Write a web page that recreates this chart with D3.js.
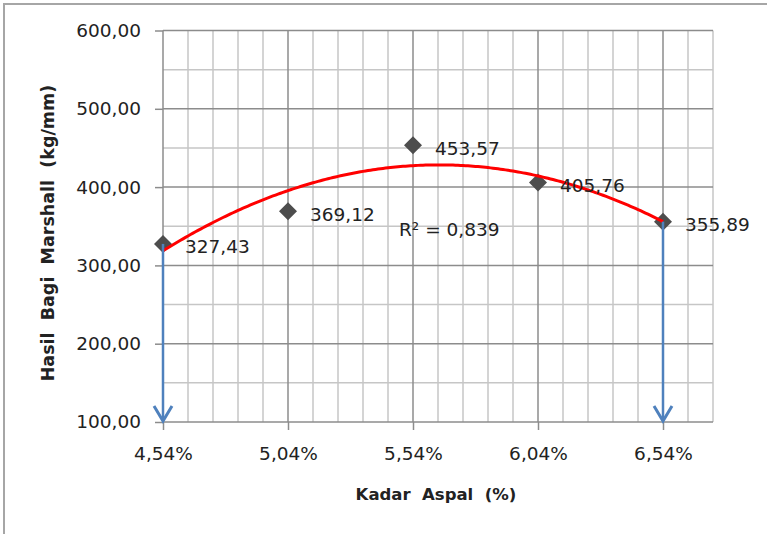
<!DOCTYPE html>
<html><head><meta charset="utf-8">
<script src="https://cdn.jsdelivr.net/npm/d3@7"></script>
<style>html,body{margin:0;padding:0;background:#fff;}svg{display:block;}text{white-space:pre;}</style>
</head><body>
<svg id="chart" width="767" height="534"></svg>
<script>
const xValues = [4.54, 5.04, 5.54, 6.04, 6.54];
const yValues = [327.43, 369.12, 453.57, 405.76, 355.89];
const valueLabels = ["327,43", "369,12", "453,57", "405,76", "355,89"];
const xTickValues = [4.54, 5.04, 5.54, 6.04, 6.54];
const xTickLabels = ["4,54%", "5,04%", "5,54%", "6,04%", "6,54%"];
const yTickValues = [100, 200, 300, 400, 500, 600];
const yTickLabels = ["100,00", "200,00", "300,00", "400,00", "500,00", "600,00"];
const arrowXs = [4.54, 6.54];
const r2Text = "R² = 0,839";
const xTitle = "Kadar  Aspal  (%)";
const yTitle = "Hasil  Bagi  Marshall  (kg/mm)";

const svg = d3.select("#chart");
const FONT = "'DejaVu Sans', Verdana, sans-serif";
const FS = 18.5;
svg.append("rect").attr("width",767).attr("height",534).attr("fill","#fff");
svg.append("rect").attr("x",4).attr("y",4).attr("width",800).attr("height",600)
  .attr("fill","none").attr("stroke","#a6a6a6").attr("stroke-width",2);

const x = d3.scaleLinear().domain([4.54, 6.74]).range([163, 713]);
const y = d3.scaleLinear().domain([100, 600]).range([422, 30.5]);

const g = svg.append("g");
const minorX = d3.range(1, 23).map(i => 4.54 + i*0.1).filter(v => !xTickValues.some(t => Math.abs(t-v) < 1e-6));
g.selectAll(".vminor").data(minorX).join("line")
  .attr("x1", d=>x(d)).attr("x2", d=>x(d)).attr("y1", y(600)).attr("y2", y(100))
  .attr("stroke","#c6c6c6").attr("stroke-width",1.5);
const minorY = d3.range(150, 600, 100);
g.selectAll(".hminor").data(minorY).join("line")
  .attr("x1", x(4.54)).attr("x2", x(6.74)).attr("y1", d=>y(d)).attr("y2", d=>y(d))
  .attr("stroke","#c6c6c6").attr("stroke-width",1.5);
g.selectAll(".vmajor").data(xTickValues.slice(1)).join("line")
  .attr("x1", d=>x(d)).attr("x2", d=>x(d)).attr("y1", y(600)).attr("y2", y(100))
  .attr("stroke","#8c8c8c").attr("stroke-width",1.5);
g.selectAll(".hmajor").data(yTickValues.slice(1)).join("line")
  .attr("x1", x(4.54)).attr("x2", x(6.74)).attr("y1", d=>y(d)).attr("y2", d=>y(d))
  .attr("stroke","#8c8c8c").attr("stroke-width",1.5);

const yAxis = d3.axisLeft(y).tickValues(yTickValues).tickSize(8).tickPadding(14)
  .tickFormat((d,i)=>yTickLabels[i]);
const ya = svg.append("g").attr("transform",`translate(${x(4.54)},0)`).call(yAxis);
const xAxis = d3.axisBottom(x).tickValues(xTickValues).tickSize(8).tickPadding(17)
  .tickFormat((d,i)=>xTickLabels[i]);
const xa = svg.append("g").attr("transform",`translate(0,${y(100)})`).call(xAxis);
[ya, xa].forEach(a => {
  a.select(".domain").attr("stroke","#8c8c8c").attr("stroke-width",1.5);
  a.selectAll(".tick line").attr("stroke","#8c8c8c").attr("stroke-width",1.5);
  a.selectAll("text").attr("font-family",FONT).attr("font-size",FS).attr("fill","#222");
});
xa.select(".domain").attr("d", `M${x(4.54)},0H${x(6.74)}`);
ya.select(".domain").attr("d", `M0,${y(600)}V${y(100)}`);

function quadFit(xs, ys){
  let n=xs.length, S=[0,0,0,0,0], T=[0,0,0];
  for(let i=0;i<n;i++){ let p=1; for(let k=0;k<5;k++){S[k]+=p; if(k<3)T[k]+=p*ys[i]; p*=xs[i];} }
  const A=[[S[0],S[1],S[2],T[0]],[S[1],S[2],S[3],T[1]],[S[2],S[3],S[4],T[2]]];
  for(let c=0;c<3;c++){ for(let r=c+1;r<3;r++){ const f=A[r][c]/A[c][c]; for(let k=c;k<4;k++)A[r][k]-=f*A[c][k]; } }
  const co=[0,0,0];
  for(let r=2;r>=0;r--){ let s=A[r][3]; for(let k=r+1;k<3;k++)s-=A[r][k]*co[k]; co[r]=s/A[r][r]; }
  return co;
}
const co = quadFit(xValues, yValues);
const fitPts = d3.range(0, 201).map(i => { const xv = 4.54 + i*(6.54-4.54)/200; return [xv, co[0]+co[1]*xv+co[2]*xv*xv]; });

const R = 9;
svg.selectAll(".pt").data(xValues).join("path")
  .attr("d", `M0,${-R}L${R},0L0,${R}L${-R},0Z`)
  .attr("transform",(d,i)=>`translate(${x(d)},${y(yValues[i])})`)
  .attr("fill","#4d4d4d");

svg.append("path").datum(fitPts)
  .attr("d", d3.line().x(d=>x(d[0])).y(d=>y(d[1])))
  .attr("fill","none").attr("stroke","#ff0000").attr("stroke-width",3);

arrowXs.forEach(ax => {
  const i = xValues.indexOf(ax);
  const px = x(ax), top = y(yValues[i]), bot = y(100);
  svg.append("line").attr("x1",px).attr("x2",px).attr("y1",top).attr("y2",bot-2)
    .attr("stroke","#4f81bd").attr("stroke-width",2.5);
  svg.append("path").attr("d",`M${px-9},${bot-16}L${px},${bot-1}L${px+9},${bot-16}`)
    .attr("fill","none").attr("stroke","#4f81bd").attr("stroke-width",3).attr("stroke-linejoin","miter");
});

svg.selectAll(".lbl").data(xValues).join("text")
  .attr("x", d=>x(d)+22).attr("y",(d,i)=>y(yValues[i])+3)
  .attr("dy","0.35em").attr("font-family",FONT).attr("font-size",FS).attr("fill","#222")
  .text((d,i)=>valueLabels[i]);

svg.append("text").attr("x",399).attr("y",230).attr("dy","0.35em")
  .attr("font-family",FONT).attr("font-size",FS).attr("fill","#222").text(r2Text);

svg.append("text").attr("x",436).attr("y",494).attr("dy","0.35em").attr("text-anchor","middle")
  .attr("font-family",FONT).attr("font-weight","bold").attr("font-size",16.5).attr("fill","#222").text(xTitle);
svg.append("text").attr("transform","translate(48,233) rotate(-90)").attr("dy","0.35em").attr("text-anchor","middle")
  .attr("font-family",FONT).attr("font-weight","bold").attr("font-size",17.5).attr("fill","#222").text(yTitle);
</script>
</body></html>
